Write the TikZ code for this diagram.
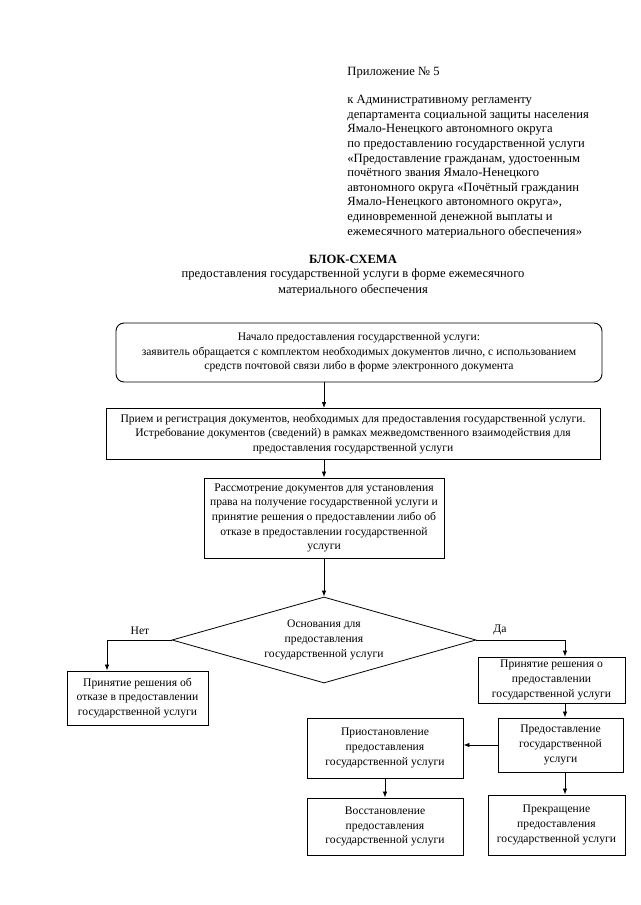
\documentclass[tikz,border=0pt]{standalone}
\usepackage{fontspec}
\setmainfont{Liberation Serif}
\usetikzlibrary{
	positioning,
	arrows.meta,
	shapes.geometric
}
\tikzset{
	x=1pt,
	y=-1pt,
	every edge/.append style={
		-{Latex[length=6pt,width=4.5pt]}
	},
	arrow/.style={
		-{Latex[length=6pt,width=4.5pt]}
	},
	headtext/.style={
		align=left,
		inner sep=0pt,
		font=\fontsize{12.6}{14.6}\selectfont
	},
	block/.style={
		draw,
		line width=0.9pt,
		align=center,
		inner sep=0pt,
		font=\fontsize{11.6}{14.6}\selectfont
	},
	decision/.style={
		draw,
		diamond,
		line width=0.8pt,
		align=center,
		inner sep=0pt,
		aspect=3.5,
		font=\fontsize{11.6}{14.6}\selectfont
	}
}

\begin{document}
\begin{tikzpicture}[line width=0.8pt]
	\useasboundingbox (0,0) rectangle (640,905);
	\draw
		node[headtext,anchor=north west] (annex) at (347,67) {Приложение № 5}
		node[headtext,anchor=north west] (regl)  at (347,95) {к Административному регламенту\\
			департамента социальной защиты населения\\
			Ямало-Ненецкого автономного округа\\
			по предоставлению государственной услуги\\
			«Предоставление гражданам, удостоенным\\
			почётного звания Ямало-Ненецкого\\
			автономного округа «Почётный гражданин\\
			Ямало-Ненецкого автономного округа»,\\
			единовременной денежной выплаты и\\
			ежемесячного материального обеспечения»}
		node[headtext,font=\fontsize{12.6}{14.6}\selectfont\bfseries] (title) at (353,259) {БЛОК-СХЕМА}
		node[headtext,align=center,anchor=north,font=\fontsize{12.6}{16}\selectfont] (subtitle) at (353,268) {предоставления государственной услуги в форме ежемесячного\\
			материального обеспечения}

		node[block,rounded corners=8pt,minimum width=486pt,minimum height=59pt] (start) at (359,352.5) {Начало предоставления государственной услуги:\\
			заявитель обращается с комплектом необходимых документов лично, с использованием\\
			средств почтовой связи либо в форме электронного документа}
		node[block,minimum width=494pt,minimum height=51pt] (receive) at (353,434) {Прием и регистрация документов, необходимых для предоставления государственной услуги.\\
			Истребование документов (сведений) в рамках межведомственного взаимодействия для\\
			предоставления государственной услуги}
		node[block,minimum width=240pt,minimum height=80pt] (review) at (324,518) {Рассмотрение документов для установления\\
			права на получение государственной услуги и\\
			принятие решения о предоставлении либо об\\
			отказе в предоставлении государственной\\
			услуги}
		node[decision,minimum width=304pt,minimum height=86pt] (basis) at (324,640) {Основания для\\
			предоставления\\
			государственной услуги}
		node[block,minimum width=141pt,minimum height=54pt] (refuse) at (137.5,698) {Принятие решения об\\
			отказе в предоставлении\\
			государственной услуги}
		node[block,minimum width=147pt,minimum height=46pt] (grant) at (551.5,680) {Принятие решения о\\
			предоставлении\\
			государственной услуги}
		node[block,minimum width=125pt,minimum height=54pt] (provide) at (560.5,745) {Предоставление\\
			государственной\\
			услуги}
		node[block,minimum width=156pt,minimum height=60pt] (suspend) at (385,748) {Приостановление\\
			предоставления\\
			государственной услуги}
		node[block,minimum width=156pt,minimum height=57pt] (restore) at (385,826.5) {Восстановление\\
			предоставления\\
			государственной услуги}
		node[block,minimum width=137pt,minimum height=60pt] (stop) at (556.5,825) {Прекращение\\
			предоставления\\
			государственной услуги}

		(start.south -| review) edge (receive.north -| review)
		(receive.south -| review) edge (review.north)
		(review.south) edge (basis.north)
		(provide.west) edge (provide.west -| suspend.east)
		(suspend.south) edge (restore.north)
	;
	% branches of the decision
	\coordinate (no)  at (107,640);
	\coordinate (yes) at (565,640);
	\draw[arrow] (basis.west) -- (no) -- (no |- refuse.north);
	\draw[arrow] (basis.east) -- (yes) -- (yes |- grant.north);
	\draw[arrow] (grant.south -| yes) -- (provide.north -| yes);
	\draw[arrow] (provide.south -| yes) -- (stop.north -| yes);
	\node[headtext,font=\fontsize{11.6}{14.6}\selectfont,anchor=south] (nolabel)  at (140,635) {Нет};
	\node[headtext,font=\fontsize{11.6}{14.6}\selectfont,anchor=south] (yeslabel) at (500,635) {Да};
\end{tikzpicture}
\end{document}
